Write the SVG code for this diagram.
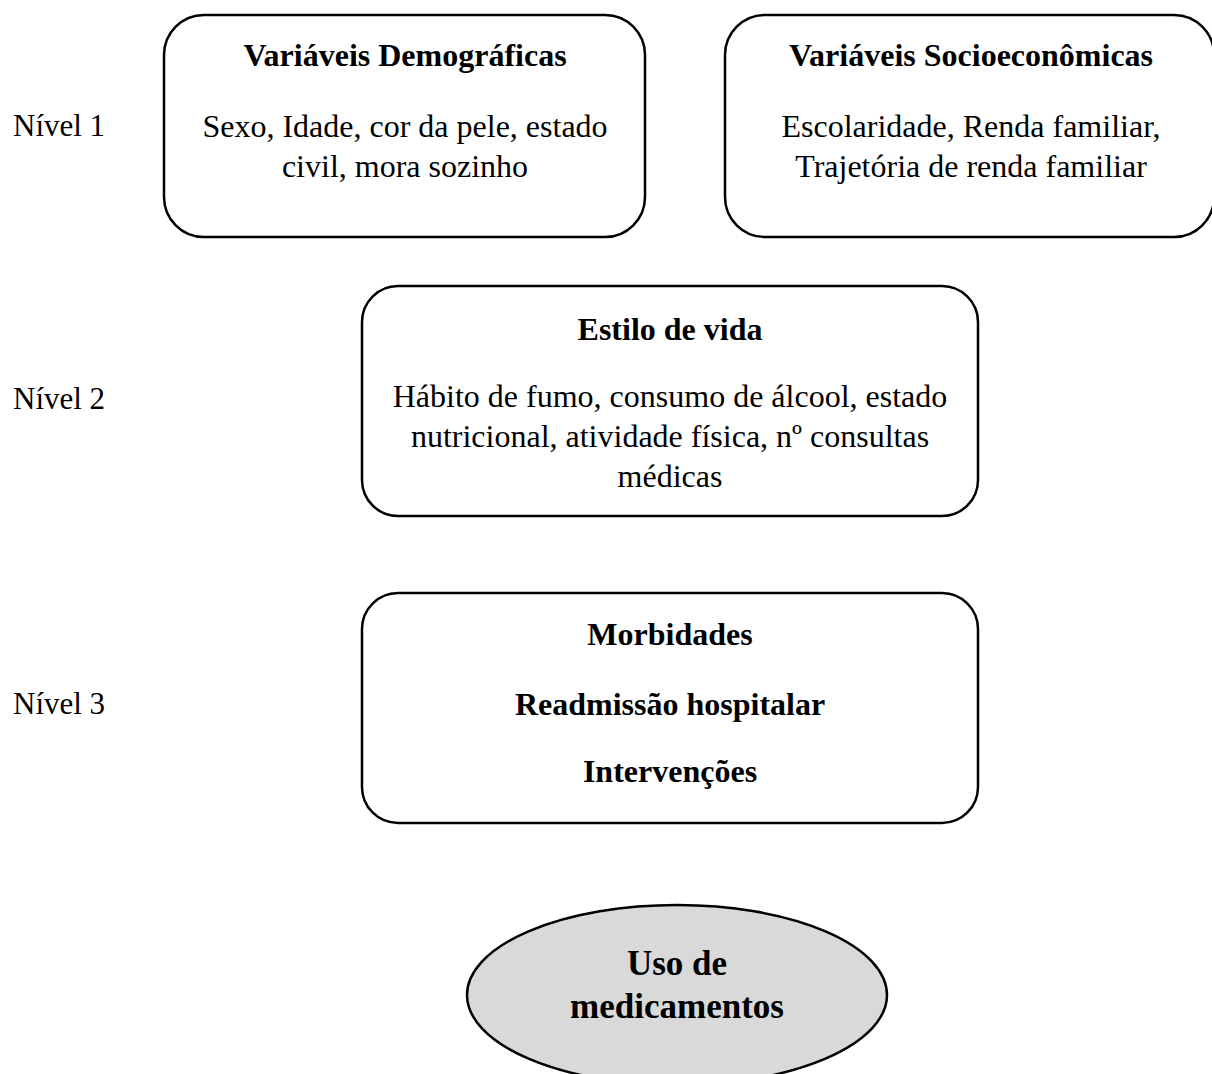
<svg xmlns="http://www.w3.org/2000/svg" width="1212" height="1074" viewBox="0 0 1212 1074">
<style>
.box{fill:#fff;stroke:#000;stroke-width:2.5}
.ell{fill:#d9d9d9;stroke:#000;stroke-width:2.5}
text{font-family:"Liberation Serif","Times New Roman",serif;font-size:32px;fill:#000}
.lv{font-size:31px}
.big{font-size:35px}
.b{font-weight:bold}
.c{text-anchor:middle}
</style>
<rect width="1212" height="1074" fill="#fff"/>
<g id="labels">
<text class="lv" x="13" y="136">Nível 1</text>
<text class="lv" x="13" y="409">Nível 2</text>
<text class="lv" x="13" y="714">Nível 3</text>
</g>
<g id="connectors"></g>
<g id="demograficas">
<rect class="box" x="164" y="15" width="481" height="222" rx="40"/>
<text class="c b" x="405" y="66">Variáveis Demográficas</text>
<text class="c" x="405" y="137">Sexo, Idade, cor da pele, estado</text>
<text class="c" x="405" y="177">civil, mora sozinho</text>
</g>
<g id="socioeconomicas">
<rect class="box" x="725" y="15" width="489" height="222" rx="40"/>
<text class="c b" x="971" y="66">Variáveis Socioeconômicas</text>
<text class="c" x="971" y="137">Escolaridade, Renda familiar,</text>
<text class="c" x="971" y="177">Trajetória de renda familiar</text>
</g>
<g id="estilo">
<rect class="box" x="362" y="286" width="616" height="230" rx="36"/>
<text class="c b" x="670" y="340">Estilo de vida</text>
<text class="c" x="670" y="407">Hábito de fumo, consumo de álcool, estado</text>
<text class="c" x="670" y="447">nutricional, atividade física, nº consultas</text>
<text class="c" x="670" y="487">médicas</text>
</g>
<g id="morbidades">
<rect class="box" x="362" y="593" width="616" height="230" rx="36"/>
<text class="c b" x="670" y="645">Morbidades</text>
<text class="c b" x="670" y="715">Readmissão hospitalar</text>
<text class="c b" x="670" y="782">Intervenções</text>
</g>
<g id="uso">
<ellipse class="ell" cx="677" cy="995" rx="210" ry="90"/>
<text class="c b big" x="677" y="975">Uso de</text>
<text class="c b big" x="677" y="1018">medicamentos</text>
</g>
</svg>
